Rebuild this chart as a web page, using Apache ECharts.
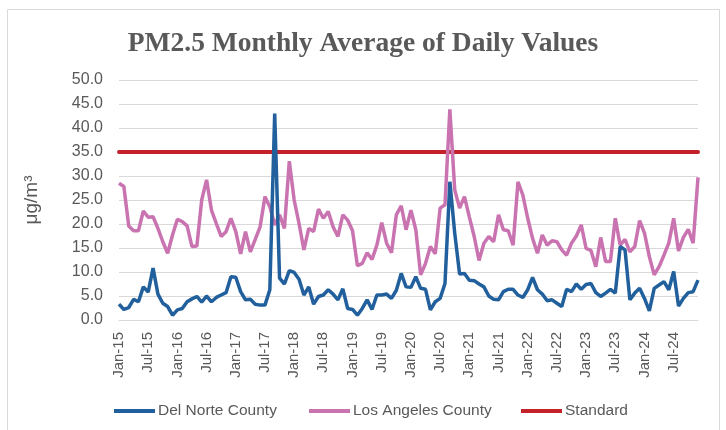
<!DOCTYPE html>
<html>
<head>
<meta charset="utf-8">
<style>
  html, body { margin: 0; padding: 0; background: #fff; }
  #main { width: 726px; height: 430px; }
</style>
<script src="https://cdn.jsdelivr.net/npm/echarts@6/dist/echarts.min.js"></script>
</head>
<body>
<div id="main"></div>
<script>
// monthly averages, Jan-15 .. Dec-24 (120 points)
const delNorte = [
  3.3, 2.2, 2.6, 4.3, 3.8, 6.9, 5.8, 10.8, 5.4, 3.5, 2.8, 1.0,
  2.1, 2.4, 3.8, 4.4, 4.9, 3.7, 5.0, 3.8, 4.7, 5.2, 5.7, 9.0,
  8.9, 5.9, 4.2, 4.3, 3.3, 3.1, 3.1, 6.3, 43.0, 8.7, 7.5, 10.3,
  9.9, 8.5, 5.2, 6.9, 3.3, 4.9, 5.2, 6.3, 5.4, 4.2, 6.5, 2.4,
  2.2, 1.0, 2.4, 4.2, 2.2, 5.2, 5.2, 5.4, 4.5, 6.2, 9.7, 6.9,
  6.8, 9.0, 6.6, 6.4, 2.1, 3.8, 4.5, 7.6, 28.8, 18.1, 9.6, 9.7,
  8.3, 8.2, 7.5, 6.9, 5.0, 4.3, 4.2, 5.9, 6.4, 6.4, 5.2, 4.7,
  6.3, 8.9, 6.3, 5.4, 4.0, 4.2, 3.5, 2.8, 6.4, 5.9, 7.5, 6.4,
  7.4, 7.6, 5.7, 4.9, 5.6, 6.4, 5.6, 15.3, 14.6, 4.2, 5.6, 6.6,
  4.5, 1.9, 6.6, 7.3, 8.0, 6.3, 10.1, 2.9, 4.5, 5.7, 5.9, 8.3
];
const losAngeles = [
  28.5, 27.8, 19.6, 18.6, 18.6, 22.7, 21.4, 21.5, 19.1, 16.3, 13.9, 17.7,
  21.0, 20.5, 19.6, 15.3, 15.4, 25.0, 29.2, 22.9, 20.1, 17.4, 18.4, 21.2,
  18.4, 13.8, 18.4, 14.2, 16.8, 19.4, 25.7, 23.6, 19.8, 21.9, 19.1, 33.1,
  25.0, 20.1, 14.6, 19.1, 18.4, 23.1, 21.2, 22.6, 19.4, 17.4, 21.9, 20.8,
  18.6, 11.3, 11.8, 14.0, 12.6, 15.6, 20.3, 16.0, 14.0, 21.9, 23.8, 18.8,
  22.9, 18.8, 9.4, 11.8, 15.3, 13.8, 23.3, 24.0, 43.9, 27.1, 23.3, 25.7,
  21.5, 17.4, 12.4, 16.0, 17.4, 16.3, 21.9, 18.8, 18.6, 15.6, 28.8, 26.0,
  21.2, 17.0, 13.9, 17.7, 15.6, 16.5, 16.3, 14.6, 13.5, 16.0, 17.5, 19.8,
  14.9, 14.5, 11.1, 17.2, 12.2, 12.2, 21.2, 15.6, 16.8, 14.2, 15.3, 20.7,
  18.1, 13.2, 9.4, 11.1, 13.5, 16.0, 21.2, 14.4, 17.2, 18.9, 16.0, 29.7
];
const standardValue = 35;
const monthNames = ['Jan', 'Feb', 'Mar', 'Apr', 'May', 'Jun', 'Jul', 'Aug', 'Sep', 'Oct', 'Nov', 'Dec'];
const years = ['15', '16', '17', '18', '19', '20', '21', '22', '23', '24'];
const yTicks = [0, 5, 10, 15, 20, 25, 30, 35, 40, 45, 50];

// Jan-15, Feb-15, ... Dec-24
const categories = [];
years.forEach(y => monthNames.forEach(m => categories.push(m + '-' + y)));
const standard = categories.map(() => standardValue);

const chart = echarts.init(document.querySelector('#main'));

const legendText = { fontFamily: 'Liberation Sans', fontSize: 15.5, color: '#595959', padding: [0, 0, 0, -2] };
const legendItem = (name, left) => ({
    top: 398,
    left: left,
    itemWidth: 41,
    itemHeight: 4,
    icon: 'rect',
    textStyle: legendText,
    data: [name]
});

const option = {
    animation: false,
    title: {
        text: 'PM2.5 Monthly Average of Daily Values',
        left: 'center',
        top: 25,
        textStyle: {
            fontFamily: 'Liberation Serif',
            fontWeight: 'bold',
            fontSize: 27.5,
            color: '#595959'
        }
    },
    graphic: [{
        type: 'rect',
        shape: { x: 7.5, y: 9.5, width: 712, height: 440 },
        style: { fill: 'none', stroke: '#d9d9d9', lineWidth: 1 },
        silent: true
    }],
    legend: [
        legendItem('Del Norte County', 109),
        legendItem('Los Angeles County', 304),
        legendItem('Standard', 516)
    ],
    grid: { left: 119, right: 28, top: 80, bottom: 110 },
    xAxis: {
        type: 'category',
        boundaryGap: false,
        data: categories,
        axisLine: { lineStyle: { color: '#d9d9d9', width: 1 } },
        axisTick: { show: false },
        axisLabel: {
            interval: 5,
            rotate: 90,
            margin: 12,
            fontFamily: 'Liberation Sans',
            fontSize: 15,
            color: '#595959'
        },
        splitLine: { show: false }
    },
    yAxis: {
        type: 'value',
        min: yTicks[0],
        max: yTicks[yTicks.length - 1],
        interval: 5,
        name: 'μg/m³',
        nameLocation: 'middle',
        nameGap: 78,
        nameRotate: 90,
        nameTextStyle: { fontFamily: 'Liberation Sans', fontSize: 19, color: '#595959' },
        axisLine: { show: false },
        axisTick: { show: false },
        axisLabel: {
            margin: 16,
            fontFamily: 'Liberation Sans',
            fontSize: 16,
            color: '#595959',
            formatter: (v) => v.toFixed(1)
        },
        splitLine: { lineStyle: { color: '#d9d9d9', width: 1 } }
    },
    series: [
        {
            name: 'Del Norte County',
            type: 'line',
            data: delNorte,
            showSymbol: false,
            color: '#21609c',
            lineStyle: { width: 3.5 },
            z: 3
        },
        {
            name: 'Los Angeles County',
            type: 'line',
            data: losAngeles,
            showSymbol: false,
            color: '#c973b0',
            lineStyle: { width: 3.5 },
            z: 2
        },
        {
            name: 'Standard',
            type: 'line',
            data: standard,
            showSymbol: false,
            color: '#c4212a',
            lineStyle: { width: 4, cap: 'round' },
            z: 1
        }
    ]
};
chart.setOption(option);
</script>
</body>
</html>
